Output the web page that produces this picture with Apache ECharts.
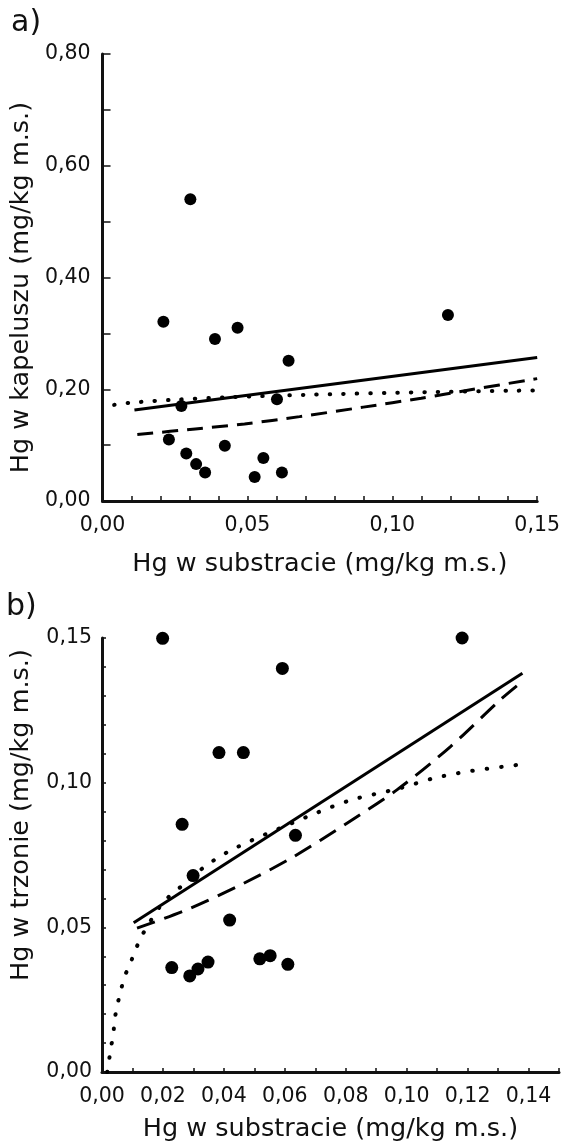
<!DOCTYPE html>
<html>
<head>
<meta charset="utf-8">
<script src="https://cdn.jsdelivr.net/npm/echarts@6/dist/echarts.min.js"></script>
<style>
html,body{margin:0;padding:0;background:#fff;}
#chart{width:563px;height:1147px;}
</style>
</head>
<body>
<div id="chart"></div>
<script>
// ---- Panel a) : Hg in cap vs Hg in substrate ----
const aPointsX = [0.0210, 0.0388, 0.0466, 0.0642, 0.1192, 0.0272, 0.0602, 0.0229, 0.0422, 0.0289, 0.0323, 0.0354, 0.0555, 0.0525, 0.0619, 0.0303];
const aPointsY = [0.321, 0.290, 0.310, 0.251, 0.333, 0.170, 0.182, 0.110, 0.099, 0.085, 0.066, 0.051, 0.077, 0.043, 0.051, 0.540];
const aSolid  = [[0.011, 0.163], [0.150, 0.257]];
const aDashed = [[0.012, 0.119], [0.032, 0.129], [0.049, 0.138], [0.068, 0.151], [0.090, 0.168], [0.110, 0.184], [0.127, 0.199], [0.150, 0.219]];
const aDotted = [[0.004, 0.172], [0.010, 0.176], [0.024, 0.181], [0.045, 0.186], [0.070, 0.190], [0.113, 0.195], [0.150, 0.198]];

// ---- Panel b) : Hg in stem vs Hg in substrate ----
const bPointsX = [0.0199, 0.1182, 0.0592, 0.0384, 0.0464, 0.0263, 0.0635, 0.0299, 0.0419, 0.0229, 0.0288, 0.0315, 0.0348, 0.0518, 0.0552, 0.0610];
const bPointsY = [0.1499, 0.1500, 0.1395, 0.1104, 0.1104, 0.0856, 0.0818, 0.0679, 0.0525, 0.0361, 0.0332, 0.0356, 0.0380, 0.0391, 0.0402, 0.0372];
const bSolid  = [[0.0104, 0.0516], [0.1380, 0.1378]];
const bDashed = [[0.0115, 0.0497], [0.0290, 0.0566], [0.0465, 0.0652], [0.0629, 0.0744], [0.0804, 0.0860], [0.0968, 0.0975], [0.1143, 0.1124], [0.1307, 0.1286], [0.1374, 0.1345]];
const bDotted = [[0.0017, 0.0000], [0.0022, 0.0030], [0.0028, 0.0078], [0.0037, 0.0128], [0.0041, 0.0177], [0.0050, 0.0229], [0.0061, 0.0278], [0.0074, 0.0329], [0.0093, 0.0376], [0.0113, 0.0430], [0.0135, 0.0479], [0.0200, 0.0585], [0.0270, 0.0650], [0.0345, 0.0716], [0.0443, 0.0777], [0.0673, 0.0882], [0.0815, 0.0939], [0.0979, 0.0981], [0.1088, 0.1015], [0.1197, 0.1038], [0.1361, 0.1061]];

// tick-label settings
const aXLabelEvery = 5;   // label every 0.05 (ticks every 0.01)
const aYLabelEvery = 2;   // label every 0.2 (ticks every 0.1)
const bXLabelEvery = 2;   // label every 0.02 (ticks every 0.01)
const bYLabelEvery = 5;   // label every 0.05 (ticks every 0.01)

const xTitle = 'Hg w substracie (mg/kg m.s.)';
const aYTitle = 'Hg w kapeluszu (mg/kg m.s.)';
const bYTitle = 'Hg w trzonie (mg/kg m.s.)';

const FONT = 'DejaVu Sans';
const INK = '#111';

function fmt(v){ return v.toFixed(2).replace('.', ','); }
function labelFn(step, every){
  return function(v){
    const k = Math.round(v / step);
    return (k % every === 0) ? fmt(v) : '';
  };
}
function zip(xs, ys){ return xs.map((x, i) => [x, ys[i]]); }

function axisBase(){
  return {
    type: 'value',
    axisLine: {show: true, onZero: false, lineStyle: {color: INK, width: 3}},
    axisTick: {show: true, inside: true, length: 5, lineStyle: {color: INK, width: 1.5}},
    splitLine: {show: false},
    nameLocation: 'middle',
    nameTextStyle: {fontFamily: FONT, fontSize: 25.5, color: INK},
    axisLabel: {fontFamily: FONT, fontSize: 20.5, color: INK}
  };
}

const chart = echarts.init(document.getElementById('chart'), null, {renderer: 'canvas'});

const xa = axisBase();
Object.assign(xa, {gridIndex: 0, min: 0, max: 0.15, interval: 0.01, name: xTitle, nameGap: 50});
xa.axisLabel = Object.assign({}, xa.axisLabel, {margin: 14, formatter: labelFn(0.01, aXLabelEvery), showMaxLabel: true});

const ya = axisBase();
Object.assign(ya, {gridIndex: 0, min: 0, max: 0.8, interval: 0.1, name: aYTitle, nameGap: 64});
ya.axisTick = Object.assign({}, ya.axisTick, {length: 8});
ya.axisLabel = Object.assign({}, ya.axisLabel, {margin: 12, formatter: labelFn(0.1, aYLabelEvery)});
ya.nameTextStyle = Object.assign({}, ya.nameTextStyle, {padding: [0, 20, 0, 0]});

const xb = axisBase();
Object.assign(xb, {gridIndex: 1, min: 0, max: 0.15, interval: 0.01, name: xTitle, nameGap: 44});
xb.axisTick = Object.assign({}, xb.axisTick, {length: 4});
xb.axisLabel = Object.assign({}, xb.axisLabel, {margin: 14, formatter: labelFn(0.01, bXLabelEvery)});

const yb = axisBase();
Object.assign(yb, {gridIndex: 1, min: 0, max: 0.15, interval: 0.01, name: bYTitle, nameGap: 68});
yb.axisTick = Object.assign({}, yb.axisTick, {length: 4});
yb.axisLabel = Object.assign({}, yb.axisLabel, {margin: 10, formatter: labelFn(0.01, bYLabelEvery)});
yb.nameTextStyle = Object.assign({}, yb.nameTextStyle, {padding: [0, 0, 0, 80]});

function scatter(idx, data, size){
  return {type: 'scatter', xAxisIndex: idx, yAxisIndex: idx, data: data, symbol: 'circle', symbolSize: size,
          itemStyle: {color: '#000', opacity: 1}, z: 5, silent: true};
}
function line(idx, data, style){
  return {type: 'line', xAxisIndex: idx, yAxisIndex: idx, data: data, showSymbol: false, symbol: 'none',
          smooth: 0.3, lineStyle: Object.assign({color: '#000'}, style), z: 4, silent: true};
}

chart.setOption({
  animation: false,
  backgroundColor: '#fff',
  title: [
    {text: 'a)', left: 11, top: 8, padding: 0, textStyle: {fontFamily: FONT, fontSize: 30, fontWeight: 'normal', color: INK}},
    {text: 'b)', left: 6, top: 592, padding: 0, textStyle: {fontFamily: FONT, fontSize: 30, fontWeight: 'normal', color: INK}}
  ],
  grid: [
    {left: 100, right: 20, top: 54, height: 447, containLabel: false},
    {left: 101, right: 4, top: 638, height: 434, containLabel: false}
  ],
  xAxis: [xa, xb],
  yAxis: [ya, yb],
  series: [
    scatter(0, zip(aPointsX, aPointsY), 12),
    line(0, aSolid, {width: 3, type: 'solid'}),
    line(0, aDashed, {width: 3, type: [16, 9]}),
    line(0, aDotted, {width: 4, type: [0.5, 13], cap: 'round'}),
    scatter(1, zip(bPointsX, bPointsY), 13),
    line(1, bSolid, {width: 3, type: 'solid'}),
    line(1, bDashed, {width: 3, type: [19, 10]}),
    line(1, bDotted, {width: 4, type: [0.5, 14], cap: 'round'})
  ]
});
</script>
</body>
</html>
